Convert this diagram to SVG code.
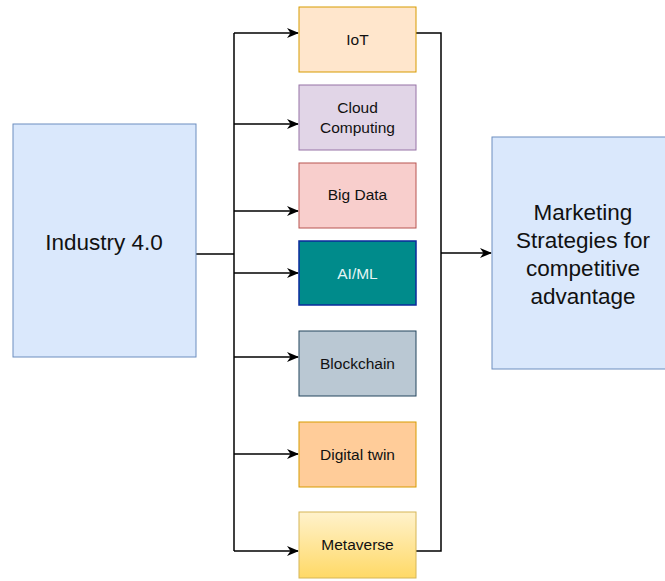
<svg xmlns="http://www.w3.org/2000/svg" width="665" height="581" viewBox="0 0 665 581">
<defs>
<marker id="arr" markerWidth="12" markerHeight="10" refX="11" refY="5" orient="auto" markerUnits="userSpaceOnUse">
<path d="M0,0 L12,5 L0,10 L3.5,5 Z" fill="#000"/>
</marker>
<linearGradient id="gold" x1="0" y1="0" x2="0" y2="1">
<stop offset="0" stop-color="#fff2cc"/>
<stop offset="1" stop-color="#ffd966"/>
</linearGradient>
<style>
text{font-family:"Liberation Sans",Arial,sans-serif;text-anchor:middle;fill:#111}
.s{font-size:15.5px}
.b{font-size:22.5px}
.c{fill:none;stroke:#000;stroke-width:1.5}
</style>
</defs>
<rect width="665" height="581" fill="#fff"/>
<g id="connectors">
<path class="c" d="M196,254 H234"/>
<path class="c" d="M234,33 V551"/>
<path class="c" d="M234,33 H298" marker-end="url(#arr)"/>
<path class="c" d="M234,124 H298" marker-end="url(#arr)"/>
<path class="c" d="M234,211 H298" marker-end="url(#arr)"/>
<path class="c" d="M234,273 H298" marker-end="url(#arr)"/>
<path class="c" d="M234,357 H298" marker-end="url(#arr)"/>
<path class="c" d="M234,454 H298" marker-end="url(#arr)"/>
<path class="c" d="M234,551 H298" marker-end="url(#arr)"/>
<path class="c" d="M416,33 H441 V551 H416"/>
<path class="c" d="M441,253 H491" marker-end="url(#arr)"/>
</g>
<g id="industry">
<rect x="13" y="124" width="183" height="233" fill="#dae8fc" stroke="#6c8ebf"/>
<text class="b" x="104" y="250">Industry 4.0</text>
</g>
<g id="iot">
<rect x="299" y="7" width="117" height="65" fill="#ffe6cc" stroke="#d79b00"/>
<text class="s" x="357.5" y="45">IoT</text>
</g>
<g id="cloud">
<rect x="299" y="85" width="117" height="65" fill="#e1d5e7" stroke="#9673a6"/>
<text class="s" x="357.5" y="113">Cloud</text>
<text class="s" x="357.5" y="133">Computing</text>
</g>
<g id="bigdata">
<rect x="299" y="163" width="117" height="65" fill="#f8cecc" stroke="#b85450"/>
<text class="s" x="357.5" y="200">Big Data</text>
</g>
<g id="aiml">
<rect x="299" y="241" width="117" height="64" fill="#008b8b" stroke="#0a2a9c" stroke-width="1.5"/>
<text class="s" x="357.5" y="279" style="fill:#e6f5f5">AI/ML</text>
</g>
<g id="blockchain">
<rect x="299" y="331" width="117" height="65" fill="#bac8d3" stroke="#23445d"/>
<text class="s" x="357.5" y="369">Blockchain</text>
</g>
<g id="digitaltwin">
<rect x="299" y="422" width="117" height="65" fill="#ffcc99" stroke="#d79b00"/>
<text class="s" x="357.5" y="460">Digital twin</text>
</g>
<g id="metaverse">
<rect x="299" y="512" width="117" height="66" fill="url(#gold)" stroke="#d6b656"/>
<text class="s" x="357.5" y="550">Metaverse</text>
</g>
<g id="marketing">
<rect x="492" y="137" width="180" height="232" fill="#dae8fc" stroke="#6c8ebf"/>
<text class="b" x="583" y="220">Marketing</text>
<text class="b" x="583" y="248">Strategies for</text>
<text class="b" x="583" y="276">competitive</text>
<text class="b" x="583" y="304">advantage</text>
</g>
</svg>
